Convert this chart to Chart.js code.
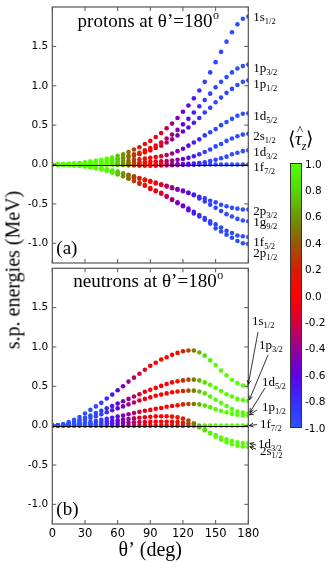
<!DOCTYPE html>
<html><head><meta charset="utf-8">
<script src="https://cdn.jsdelivr.net/npm/chart.js@4.4.0/dist/chart.umd.min.js"></script>
<style>
html,body{margin:0;padding:0;background:#fff;}
body{width:333px;height:568px;position:relative;overflow:hidden;font-family:"Liberation Serif",serif;color:#000;}
canvas{position:absolute;left:0;}
#cTop{top:0}
#cBot{top:266px}
#ylab{position:absolute;left:13px;top:270px;transform:translate(-50%,-50%) rotate(-90deg);white-space:nowrap;font-size:20px;}
#cbar{position:absolute;left:290px;top:163px;width:10px;height:263px;border:1px solid #333;}
.cbt{position:absolute;left:305px;font-family:"DejaVu Sans",sans-serif;font-size:10.5px;line-height:12px;transform:translateY(-50%);}
#cbtitle{position:absolute;left:288px;top:128px;font-size:19px;white-space:nowrap;line-height:22px;}
#cbtitle .tau{position:relative;display:inline-block;font-style:italic;}
#cbtitle .hat{position:absolute;left:2px;top:-9px;font-style:normal;font-size:13px;}
</style></head>
<body>
<canvas id="cTop" width="333" height="266"></canvas>
<canvas id="cBot" width="333" height="302"></canvas>
<div id="ylab">s.p. energies (MeV)</div>
<div id="cbar"></div>
<div id="cbtitle">⟨<span class="tau">τ<span class="hat">^</span></span><sub style="font-size:12px;font-style:italic">z</sub>⟩</div>
<script>
// ---------------- data ----------------
const theta = [0,5,10,15,20,25,30,35,40,45,50,55,60,65,70,75,80,85,90,95,100,105,110,115,120,125,130,135,140,145,150,155,160,165,170,175,180];
const yTicks = [-1.0,-0.5,0.0,0.5,1.0,1.5];
const xTicks = [0,30,60,90,120,150,180];
const cbTicks = [1.0,0.8,0.6,0.4,0.2,0.0,-0.2,-0.4,-0.6,-0.8,-1.0];

// protons
const p_1s12 = [0,0,0.005,0.01,0.015,0.02,0.03,0.04,0.05,0.06,0.075,0.09,0.11,0.13,0.16,0.19,0.22,0.26,0.30,0.35,0.40,0.46,0.52,0.59,0.67,0.75,0.84,0.94,1.05,1.17,1.30,1.43,1.56,1.68,1.78,1.85,1.88];
const p_1p32 = [0,0,0.002,0.005,0.009,0.014,0.02,0.027,0.035,0.045,0.055,0.065,0.08,0.09,0.11,0.13,0.15,0.18,0.21,0.24,0.28,0.33,0.38,0.44,0.51,0.58,0.66,0.74,0.82,0.90,0.98,1.05,1.11,1.17,1.22,1.25,1.27];
const p_1p12 = [0,0,0.001,0.004,0.007,0.011,0.016,0.022,0.03,0.037,0.045,0.055,0.065,0.08,0.095,0.11,0.13,0.155,0.18,0.21,0.24,0.28,0.32,0.37,0.42,0.47,0.53,0.59,0.66,0.72,0.79,0.85,0.91,0.96,1.01,1.05,1.07];
const p_1d52 = [0,0,0.001,0.002,0.004,0.006,0.009,0.013,0.017,0.022,0.027,0.033,0.04,0.045,0.05,0.06,0.065,0.075,0.085,0.095,0.105,0.12,0.14,0.17,0.20,0.24,0.28,0.32,0.37,0.41,0.45,0.50,0.54,0.58,0.62,0.645,0.65];
const p_2s12 = [0,0,0,0.001,0.001,0.002,0.003,0.004,0.006,0.008,0.01,0.012,0.015,0.018,0.021,0.024,0.027,0.03,0.034,0.037,0.04,0.045,0.05,0.06,0.07,0.085,0.105,0.13,0.16,0.19,0.23,0.26,0.30,0.33,0.36,0.38,0.39];
const p_1d32 = [0,0,0,0,0.001,0.001,0.002,0.002,0.003,0.003,0.004,0.004,0.005,0.005,0.005,0.005,0.005,0.005,0.005,0.005,0.005,0.005,0.005,0.005,0.005,0.008,0.012,0.02,0.03,0.045,0.06,0.08,0.10,0.13,0.15,0.17,0.18];
const p_1f72 = [0,0,0,0,0,0,0,0,0,-0.001,-0.002,-0.003,-0.005,-0.007,-0.01,-0.012,-0.014,-0.015,-0.015,-0.014,-0.012,-0.01,-0.008,-0.006,-0.004,-0.003,-0.002,-0.001,0,0,0,0,0,0,0,0,0];
const p_2p32 = [0,0,-0.001,-0.003,-0.007,-0.012,-0.018,-0.026,-0.036,-0.047,-0.06,-0.075,-0.09,-0.11,-0.13,-0.15,-0.17,-0.19,-0.21,-0.23,-0.25,-0.27,-0.29,-0.31,-0.33,-0.36,-0.38,-0.41,-0.43,-0.46,-0.48,-0.51,-0.53,-0.55,-0.56,-0.57,-0.57];
const p_1g92 = [0,0,-0.001,-0.004,-0.008,-0.013,-0.02,-0.028,-0.038,-0.05,-0.065,-0.08,-0.10,-0.12,-0.14,-0.16,-0.18,-0.20,-0.22,-0.24,-0.26,-0.28,-0.30,-0.32,-0.34,-0.36,-0.39,-0.43,-0.47,-0.51,-0.55,-0.59,-0.63,-0.66,-0.69,-0.71,-0.72];
const p_1f52 = [0,0,-0.001,-0.004,-0.009,-0.015,-0.023,-0.033,-0.046,-0.06,-0.077,-0.097,-0.12,-0.145,-0.175,-0.205,-0.235,-0.26,-0.30,-0.33,-0.36,-0.40,-0.44,-0.48,-0.52,-0.56,-0.60,-0.64,-0.68,-0.72,-0.76,-0.80,-0.84,-0.87,-0.90,-0.91,-0.92];
const p_2p12 = [0,0,-0.002,-0.005,-0.01,-0.016,-0.025,-0.035,-0.048,-0.063,-0.08,-0.10,-0.125,-0.15,-0.18,-0.21,-0.245,-0.27,-0.31,-0.34,-0.37,-0.41,-0.45,-0.49,-0.53,-0.58,-0.62,-0.66,-0.70,-0.75,-0.81,-0.85,-0.89,-0.93,-0.97,-1.0,-1.01];
const p_tau = [1,1,1,1,1,1,1,1,1,1,1.0,0.9,0.75,0.6,0.45,0.3,0.2,0.1,0.03,-0.05,-0.15,-0.28,-0.38,-0.47,-0.55,-0.64,-0.72,-0.8,-0.87,-0.92,-0.95,-0.96,-0.97,-0.98,-0.99,-1,-1];

// neutrons
const n_1s12 = [0,0.005,0.02,0.045,0.075,0.11,0.155,0.2,0.245,0.29,0.345,0.395,0.45,0.5,0.56,0.61,0.66,0.71,0.76,0.8,0.84,0.87,0.9,0.925,0.945,0.955,0.955,0.93,0.89,0.83,0.77,0.70,0.64,0.58,0.54,0.51,0.50];
const n_1p32 = [0,0.003,0.012,0.03,0.05,0.075,0.1,0.13,0.16,0.19,0.22,0.25,0.28,0.31,0.34,0.37,0.40,0.43,0.455,0.48,0.505,0.53,0.55,0.565,0.575,0.585,0.585,0.575,0.55,0.52,0.48,0.44,0.40,0.37,0.34,0.325,0.315];
const n_1d52 = [0,0.002,0.009,0.022,0.038,0.056,0.076,0.098,0.12,0.145,0.17,0.195,0.22,0.245,0.27,0.295,0.32,0.34,0.36,0.38,0.395,0.41,0.425,0.435,0.44,0.445,0.445,0.435,0.41,0.37,0.33,0.29,0.25,0.21,0.18,0.165,0.155];
const n_1p12 = [0,0.001,0.005,0.012,0.02,0.03,0.04,0.05,0.062,0.075,0.088,0.1,0.115,0.13,0.145,0.16,0.175,0.19,0.2,0.215,0.225,0.24,0.25,0.26,0.27,0.275,0.275,0.27,0.255,0.235,0.21,0.19,0.17,0.15,0.14,0.13,0.125];
const n_1f72 = [0,0,0,0,0,0,0,0,0,0,0,0,0,0,0,0,0,0,0,0,0,0,0,0,0,0,0,0,0,0,0,0,0,0,0,0,0];
const n_1d32 = [0,0.001,0.003,0.007,0.012,0.017,0.023,0.03,0.037,0.045,0.053,0.06,0.068,0.076,0.084,0.092,0.1,0.107,0.113,0.118,0.12,0.12,0.115,0.105,0.09,0.065,0.03,-0.01,-0.05,-0.09,-0.12,-0.15,-0.175,-0.195,-0.21,-0.22,-0.225];
const n_2s12 = [0,0,0.001,0.003,0.005,0.008,0.011,0.014,0.017,0.021,0.025,0.029,0.033,0.036,0.039,0.042,0.045,0.047,0.048,0.049,0.05,0.05,0.048,0.045,0.038,0.028,0.01,-0.02,-0.06,-0.1,-0.14,-0.18,-0.21,-0.235,-0.255,-0.265,-0.27];
const n_tau = [-1,-1,-1,-1,-1,-1,-1,-0.97,-0.93,-0.88,-0.8,-0.7,-0.6,-0.5,-0.4,-0.3,-0.2,-0.1,-0.03,0,0,0.02,0.05,0.1,0.2,0.35,0.5,0.7,0.85,0.93,1,1,1,1,1,1,1];

// ---------------- colour map (style) ----------------
const cmap = [
  [1.0,[85,255,0]],[0.8,[85,215,0]],[0.6,[110,150,0]],[0.4,[150,90,0]],[0.2,[215,30,0]],
  [0.0,[255,0,0]],[-0.2,[215,0,55]],[-0.4,[150,0,150]],[-0.6,[95,0,225]],[-0.8,[55,45,255]],[-1.0,[45,80,255]]
];
function colorFor(t){
  for(let i=0;i<cmap.length-1;i++){
    const [a,ca]=cmap[i],[b,cb]=cmap[i+1];
    if(t<=a && t>=b){
      const f=(a-t)/(a-b);
      const c=ca.map((v,k)=>Math.round(v+(cb[k]-v)*f));
      return `rgb(${c[0]},${c[1]},${c[2]})`;
    }
  }
  return t>1?`rgb(${cmap[0][1].join(',')})`:`rgb(${cmap[cmap.length-1][1].join(',')})`;
}
// colour bar
document.getElementById('cbar').style.background =
  'linear-gradient(to bottom,' + cmap.map((s,i)=>`rgb(${s[1].join(',')}) ${i*10}%`).join(',') + ')';
cbTicks.forEach((v,i)=>{
  const d=document.createElement('div'); d.className='cbt';
  d.style.top=(163.5 + i*26.4)+'px'; d.textContent=v.toFixed(1);
  document.body.appendChild(d);
});

// ---------------- plugins ----------------
const frame = {
  id:'frame',
  afterDatasetsDraw(chart, args, o){
    const {ctx, chartArea:a, scales:{x,y}} = chart;
    ctx.save();
    // zero line
    ctx.strokeStyle='#000'; ctx.lineWidth=1;
    const y0=Math.round(y.getPixelForValue(0))+0.5;
    ctx.beginPath(); ctx.moveTo(a.left,y0); ctx.lineTo(a.right,y0); ctx.stroke();
    // frame
    ctx.strokeStyle='#555'; ctx.lineWidth=1.2;
    ctx.strokeRect(a.left,a.top,a.right-a.left,a.bottom-a.top);
    ctx.lineWidth=1; ctx.strokeStyle='#555';
    xTicks.forEach(v=>{const px=x.getPixelForValue(v);
      ctx.beginPath(); ctx.moveTo(px,a.bottom); ctx.lineTo(px,a.bottom-4);
      ctx.moveTo(px,a.top); ctx.lineTo(px,a.top+4); ctx.stroke();});
    yTicks.forEach(v=>{const py=y.getPixelForValue(v);
      ctx.beginPath(); ctx.moveTo(a.left,py); ctx.lineTo(a.left+4,py);
      ctx.moveTo(a.right,py); ctx.lineTo(a.right-4,py); ctx.stroke();});
    // panel texts
    ctx.fillStyle='#000'; ctx.textBaseline='alphabetic';
    ctx.font='19px "Liberation Serif"';
    const w=ctx.measureText(o.title).width;
    ctx.font='12px "Liberation Serif"';
    const w2=ctx.measureText('o').width;
    const x0=148-(w+w2)/2;
    ctx.font='19px "Liberation Serif"'; ctx.fillText(o.title,x0,a.top+o.titleDy);
    ctx.font='12px "Liberation Serif"'; ctx.fillText('o',x0+w+0.5,a.top+o.titleDy-8);
    ctx.font='19px "Liberation Serif"'; ctx.fillText(o.tag,a.left+4,a.bottom-o.tagDy);
    // level labels
    o.labels.forEach(L=>{
      const last=L.s[L.s.length-1];
      const ly = L.ty!==undefined ? L.ty : y.getPixelForValue(last)+L.dy;
      const lx = L.tx!==undefined ? L.tx : a.right+5;
      ctx.font='13px "Liberation Serif"';
      ctx.fillText(L.m,lx,ly+4.5);
      const mw=ctx.measureText(L.m).width;
      ctx.font='8.5px "Liberation Serif"';
      ctx.fillText(L.sub,lx+mw,ly+7.5);
      if(L.ar){
        const tx=a.right+L.ar[2], ty=y.getPixelForValue(last)+L.ar[3];
        const fx=L.ar[0], fy=L.ar[1];
        ctx.strokeStyle='#000'; ctx.lineWidth=0.8;
        ctx.beginPath(); ctx.moveTo(fx,fy); ctx.lineTo(tx,ty); ctx.stroke();
        const ang=Math.atan2(ty-fy,tx-fx), h=4.5;
        ctx.beginPath();
        ctx.moveTo(tx-h*Math.cos(ang-0.45),ty-h*Math.sin(ang-0.45));
        ctx.lineTo(tx,ty);
        ctx.lineTo(tx-h*Math.cos(ang+0.45),ty-h*Math.sin(ang+0.45));
        ctx.stroke();
      }
    });
    ctx.restore();
  }
};

function ds(vals, tau){
  return {data: theta.map((t,i)=>({x:t,y:vals[i]})), showLine:false,
    pointRadius:2.3, pointHoverRadius:2.3, pointBorderWidth:0,
    pointBackgroundColor: tau.map(colorFor)};
}

function makeChart(id, series, tau, bottom, plugOpts, padTop, padBottom){
  return new Chart(document.getElementById(id), {
    type:'scatter',
    data:{datasets: series.map(s=>ds(s,tau))},
    options:{
      responsive:false, animation:false, devicePixelRatio:1,
      layout:{padding:{left:0,right:84.7,top:padTop,bottom:padBottom}},
      plugins:{legend:{display:false}, tooltip:{enabled:false}, frame:plugOpts},
      scales:{
        x:{type:'linear', min:0, max:180, display:bottom,
           afterBuildTicks:s=>{s.ticks=xTicks.map(v=>({value:v}));},
           afterFit:s=>{s.height=bottom?44:0; s.paddingLeft=0; s.paddingRight=0;},
           ticks:{font:{family:'DejaVu Sans',size:11.5}, color:'#000', padding:3, maxRotation:0},
           grid:{display:false, drawTicks:false}, border:{display:false},
           title:{display:true, text:'θ’ (deg)', color:'#000', font:{family:'Liberation Serif',size:20}, padding:{top:0,bottom:5}}},
        y:{min:-1.25, max:2.0,
           afterBuildTicks:s=>{s.ticks=yTicks.map(v=>({value:v}));},
           afterFit:s=>{s.width=52.3; s.paddingTop=0; s.paddingBottom=0;},
           ticks:{callback:v=>v.toFixed(1), font:{family:'DejaVu Sans',size:10.5}, color:'#000', padding:4},
           grid:{display:false, drawTicks:false}, border:{display:false}}
      }
    },
    plugins:[frame]
  });
}

makeChart('cTop',
  [p_1s12,p_1p32,p_1p12,p_1d52,p_2s12,p_1d32,p_1f72,p_2p32,p_1g92,p_1f52,p_2p12], p_tau, false,
  {title:'protons at θ’=180', titleDy:20, tag:'(a)', tagDy:9,
   labels:[
    {m:'1s',sub:'1/2',s:p_1s12,dy:0},
    {m:'1p',sub:'3/2',s:p_1p32,dy:3},
    {m:'1p',sub:'1/2',s:p_1p12,dy:3.5},
    {m:'1d',sub:'5/2',s:p_1d52,dy:2.5},
    {m:'2s',sub:'1/2',s:p_2s12,dy:2},
    {m:'1d',sub:'3/2',s:p_1d32,dy:1},
    {m:'1f',sub:'7/2',s:p_1f72,dy:2},
    {m:'2p',sub:'3/2',s:p_2p32,dy:1},
    {m:'1g',sub:'9/2',s:p_1g92,dy:0},
    {m:'1f',sub:'5/2',s:p_1f52,dy:4},
    {m:'2p',sub:'1/2',s:p_2p12,dy:8}
   ]}, 7, 3);

makeChart('cBot',
  [n_1s12,n_1p32,n_1d52,n_1p12,n_1f72,n_1d32,n_2s12], n_tau, true,
  {title:'neutrons at θ’=180', titleDy:19, tag:'(b)', tagDy:9,
   labels:[
    {m:'1s',sub:'1/2',s:n_1s12,tx:252,ty:54,ar:[258,66,0,-2]},
    {m:'1p',sub:'3/2',s:n_1p32,tx:259,ty:78,ar:[268,89,1,-1]},
    {m:'1d',sub:'5/2',s:n_1d52,tx:262,ty:115,ar:[265,122,1.5,-1]},
    {m:'1p',sub:'1/2',s:n_1p12,tx:262,ty:140,ar:[257,144,1,-1]},
    {m:'1f',sub:'7/2',s:n_1f72,tx:260,ty:157,ar:[257,158.5,1,0]},
    {m:'1d',sub:'3/2',s:n_1d32,tx:258,ty:177,ar:[256,179,1.5,0]},
    {m:'2s',sub:'1/2',s:n_2s12,tx:260,ty:184,ar:[256,183,1.5,0]}
   ]}, 2, 0);
</script>
</body></html>
